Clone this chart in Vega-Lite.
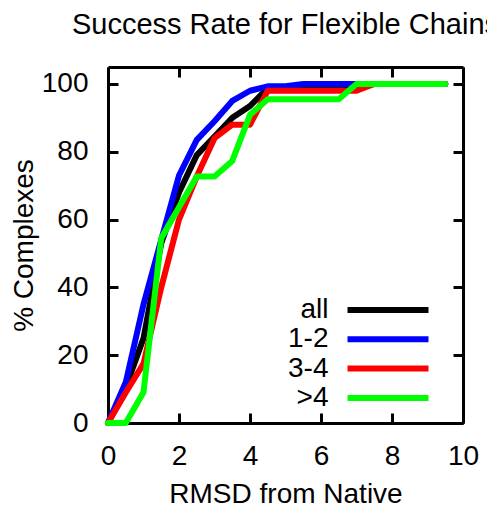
{
  "$schema": "https://vega.github.io/schema/vega-lite/v6.json",
  "width": 355,
  "height": 356,
  "autosize": {"type": "none"},
  "padding": {"left": 108, "top": 67, "right": 24, "bottom": 84},
  "background": "white",
  "title": {"text": "Success Rate for Flexible Chains", "anchor": "middle", "baseline": "alphabetic", "offset": 3, "fontSize": 29, "font": "Liberation Sans", "fontWeight": "normal", "color": "black"},
  "datasets": {
    "curves": [
      {"x": 0, "p": 0, "g": "all"}, {"x": 0.5, "p": 10.5, "g": "all"}, {"x": 1, "p": 25, "g": "all"}, {"x": 1.5, "p": 53, "g": "all"}, {"x": 2, "p": 68, "g": "all"}, {"x": 2.5, "p": 79, "g": "all"}, {"x": 3, "p": 84.5, "g": "all"}, {"x": 3.5, "p": 90, "g": "all"}, {"x": 4, "p": 93.5, "g": "all"}, {"x": 4.5, "p": 98.8, "g": "all"}, {"x": 5, "p": 98.8, "g": "all"}, {"x": 5.5, "p": 98.8, "g": "all"}, {"x": 6, "p": 98.8, "g": "all"}, {"x": 6.5, "p": 98.8, "g": "all"}, {"x": 7, "p": 99.4, "g": "all"}, {"x": 7.5, "p": 100, "g": "all"}, {"x": 8, "p": 100, "g": "all"}, {"x": 8.5, "p": 100, "g": "all"}, {"x": 9, "p": 100, "g": "all"}, {"x": 9.5, "p": 100, "g": "all"},
      {"x": 0, "p": 0, "g": "1-2"}, {"x": 0.5, "p": 12, "g": "1-2"}, {"x": 1, "p": 35, "g": "1-2"}, {"x": 1.5, "p": 54, "g": "1-2"}, {"x": 2, "p": 73, "g": "1-2"}, {"x": 2.5, "p": 83.5, "g": "1-2"}, {"x": 3, "p": 89, "g": "1-2"}, {"x": 3.5, "p": 95, "g": "1-2"}, {"x": 4, "p": 98, "g": "1-2"}, {"x": 4.5, "p": 99.3, "g": "1-2"}, {"x": 5, "p": 99.3, "g": "1-2"}, {"x": 5.5, "p": 100, "g": "1-2"}, {"x": 6, "p": 100, "g": "1-2"}, {"x": 6.5, "p": 100, "g": "1-2"}, {"x": 7, "p": 100, "g": "1-2"}, {"x": 7.5, "p": 100, "g": "1-2"}, {"x": 8, "p": 100, "g": "1-2"}, {"x": 8.5, "p": 100, "g": "1-2"}, {"x": 9, "p": 100, "g": "1-2"}, {"x": 9.5, "p": 100, "g": "1-2"},
      {"x": 0, "p": 0, "g": "3-4"}, {"x": 0.5, "p": 9, "g": "3-4"}, {"x": 1, "p": 17.5, "g": "3-4"}, {"x": 1.5, "p": 40, "g": "3-4"}, {"x": 2, "p": 60, "g": "3-4"}, {"x": 2.5, "p": 72.7, "g": "3-4"}, {"x": 3, "p": 84, "g": "3-4"}, {"x": 3.5, "p": 88, "g": "3-4"}, {"x": 4, "p": 88, "g": "3-4"}, {"x": 4.5, "p": 98, "g": "3-4"}, {"x": 5, "p": 98, "g": "3-4"}, {"x": 5.5, "p": 98, "g": "3-4"}, {"x": 6, "p": 98, "g": "3-4"}, {"x": 6.5, "p": 98, "g": "3-4"}, {"x": 7, "p": 98, "g": "3-4"}, {"x": 7.5, "p": 100, "g": "3-4"}, {"x": 8, "p": 100, "g": "3-4"}, {"x": 8.5, "p": 100, "g": "3-4"}, {"x": 9, "p": 100, "g": "3-4"}, {"x": 9.5, "p": 100, "g": "3-4"},
      {"x": 0, "p": 0, "g": ">4"}, {"x": 0.5, "p": 0, "g": ">4"}, {"x": 1, "p": 9.1, "g": ">4"}, {"x": 1.5, "p": 54.5, "g": ">4"}, {"x": 2, "p": 63.6, "g": ">4"}, {"x": 2.5, "p": 72.7, "g": ">4"}, {"x": 3, "p": 72.7, "g": ">4"}, {"x": 3.5, "p": 77.3, "g": ">4"}, {"x": 4, "p": 90.9, "g": ">4"}, {"x": 4.5, "p": 95.5, "g": ">4"}, {"x": 5, "p": 95.5, "g": ">4"}, {"x": 5.5, "p": 95.5, "g": ">4"}, {"x": 6, "p": 95.5, "g": ">4"}, {"x": 6.5, "p": 95.5, "g": ">4"}, {"x": 7, "p": 100, "g": ">4"}, {"x": 7.5, "p": 100, "g": ">4"}, {"x": 8, "p": 100, "g": ">4"}, {"x": 8.5, "p": 100, "g": ">4"}, {"x": 9, "p": 100, "g": ">4"}, {"x": 9.5, "p": 100, "g": ">4"}
    ]
  },
  "data": {"name": "curves"},
  "layer": [
    {
      "mark": {"type": "line", "opacity": 0},
      "encoding": {
        "x": {"field": "x", "type": "quantitative", "scale": {"domain": [0, 10], "nice": false}, "axis": {"orient": "top", "labels": false, "title": null, "values": [0, 2, 4, 6, 8, 10]}},
        "y": {"field": "p", "type": "quantitative", "scale": {"domain": [0, 105], "nice": false}, "axis": {"orient": "right", "labels": false, "title": null, "values": [0, 20, 40, 60, 80, 100]}},
        "detail": {"field": "g"}
      }
    },
    {
      "mark": {"type": "line", "strokeWidth": 6, "strokeJoin": "round", "strokeCap": "round"},
      "encoding": {
        "x": {"field": "x", "type": "quantitative", "scale": {"domain": [0, 10], "nice": false}, "axis": {"orient": "bottom", "title": "RMSD from Native", "values": [0, 2, 4, 6, 8, 10], "labelPadding": 29, "titlePadding": 10, "labelFlush": false}},
        "y": {"field": "p", "type": "quantitative", "scale": {"domain": [0, 105], "nice": false}, "axis": {"orient": "left", "title": "% Complexes", "values": [0, 20, 40, 60, 80, 100], "labelPadding": 30, "titlePadding": 3, "labelFlush": false}},
        "color": {
          "field": "g", "type": "nominal", "sort": null,
          "scale": {"domain": ["all", "1-2", "3-4", ">4"], "range": ["#000000", "#0000ff", "#ff0000", "#00ff00"]},
          "legend": {"orient": "none", "legendX": 266, "legendY": 229, "title": null, "labelAlign": "right", "labelOffset": -73.5, "symbolType": "M-8.1,0H8.1", "symbolSize": 100, "symbolStrokeWidth": 6, "rowPadding": 1.3, "padding": 0, "labelFontSize": 28, "labelFont": "Liberation Sans", "labelColor": "black"}
        }
      }
    }
  ],
  "resolve": {"axis": {"x": "independent", "y": "independent"}},
  "config": {
    "view": {"stroke": null},
    "axis": {"domainColor": "black", "domainWidth": 3, "tickColor": "black", "tickWidth": 3, "tickSize": -10, "grid": false, "labelFont": "Liberation Sans", "labelFontSize": 28, "labelColor": "black", "titleFont": "Liberation Sans", "titleFontSize": 28, "titleFontWeight": "normal", "titleColor": "black"}
  }
}
